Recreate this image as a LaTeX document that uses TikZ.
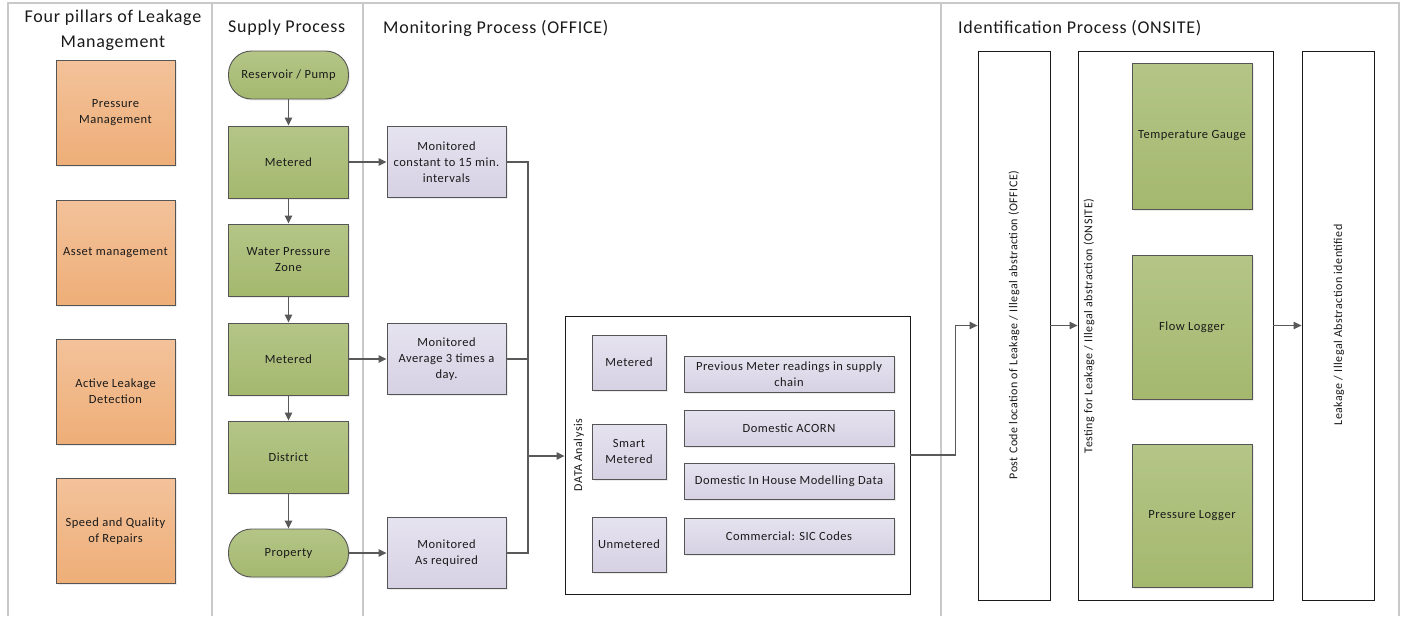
\documentclass[tikz,border=0pt]{standalone}
\usepackage{fontspec}
\setmainfont{Carlito}[LetterSpace=4]
\usetikzlibrary{arrows.meta,shadows}
\definecolor{lanegray}{HTML}{C9C9C9}
\definecolor{boxline}{HTML}{555555}
\definecolor{txtgray}{HTML}{1A1A1A}
\definecolor{flowgray}{HTML}{595959}
\definecolor{orangetop}{HTML}{F3C29A}
\definecolor{orangebot}{HTML}{EEAE78}
\definecolor{greentop}{HTML}{B4C587}
\definecolor{greenbot}{HTML}{A5B86E}
\definecolor{lavtop}{HTML}{E6E3F0}
\definecolor{lavbot}{HTML}{D6D1E3}
\tikzset{
  lane/.style={draw=lanegray,line width=1.4pt},
  lanetitle/.style={anchor=west,inner sep=0pt,text=txtgray,font=\fontsize{18}{25}\selectfont},
  box/.style={draw=boxline,line width=0.9pt,align=center,text=txtgray,
    font=\fontsize{12.5}{16}\selectfont,
    drop shadow={shadow xshift=1.5pt,shadow yshift=-1.5pt,opacity=0.15}},
  pillar/.style={box,top color=orangetop,bottom color=orangebot,minimum width=119pt,minimum height=105pt},
  supply/.style={box,top color=greentop,bottom color=greenbot,minimum width=120pt,minimum height=72pt},
  terminal/.style={supply,minimum height=48pt,rounded corners=23pt},
  monitor/.style={box,top color=lavtop,bottom color=lavbot,minimum width=119pt,minimum height=71pt},
  datatype/.style={monitor,minimum width=74pt,minimum height=55pt},
  datasource/.style={monitor,minimum width=210pt,minimum height=36pt},
  device/.style={supply,minimum width=120pt},
  stage/.style={draw=txtgray,line width=0.9pt,fill=white,minimum height=549pt},
  sidelabel/.style={rotate=90,inner sep=0pt,text=txtgray,font=\fontsize{12}{14}\selectfont},
  flow/.style={draw=flowgray,line width=1.2pt},
  flowarrow/.style={flow,-{Triangle[length=8pt,width=7.5pt]}}
}
\begin{document}
\begin{tikzpicture}[x=1pt,y=-1pt]
\useasboundingbox (0,0) rectangle (1404,616);
\draw[lane] (8,616) -- (8,3) -- (1399,3) -- (1399,616);
\foreach \lx in {212,363,941}
  \draw[lane] (\lx,3) -- (\lx,616);

\node[lanetitle,anchor=center,align=center] (pillartitle) at (113,30) {Four pillars of Leakage\\Management};
\node[lanetitle] (supplytitle) at (228,28) {Supply Process};
\node[lanetitle] (montitle) at (383,28) {Monitoring Process (OFFICE)};
\node[lanetitle] (idtitle) at (958,28) {Identification Process (ONSITE)};

\node[pillar] (pm) at (115.5,113) {Pressure\\Management};
\node[pillar] (am) at (115.5,252.5) {Asset management};
\node[pillar] (ald) at (115.5,391.5) {Active Leakage\\Detection};
\node[pillar] (sqr) at (115.5,531) {Speed and Quality\\of Repairs};

\node[terminal] (res) at (288.5,75) {Reservoir / Pump};
\node[supply] (met1) at (288.5,162) {Metered};
\node[supply] (wpz) at (288.5,260) {Water Pressure\\Zone};
\node[supply] (met2) at (288.5,359) {Metered};
\node[supply] (dist) at (288.5,457) {District};
\node[terminal] (prop) at (288.5,553) {Property};

\node[monitor] (mon1) at (446.5,162) {Monitored\\constant to 15 min.\\intervals};
\node[monitor] (mon2) at (446.5,359) {Monitored\\Average 3 times a\\day.};
\node[monitor] (mon3) at (446.5,553) {Monitored\\As required};

\draw[flowarrow] (res) -- (met1);
\draw[flowarrow] (met1) -- (wpz);
\draw[flowarrow] (wpz) -- (met2);
\draw[flowarrow] (met2) -- (dist);
\draw[flowarrow] (dist) -- (prop);
\draw[flowarrow] (met1) -- (mon1);
\draw[flowarrow] (met2) -- (mon2);
\draw[flowarrow] (prop) -- (mon3);

\node[draw=txtgray,line width=0.9pt,minimum width=345pt,minimum height=278pt] (data) at (737.5,455) {};
\node[sidelabel] (datalbl) at (579,455) {DATA Analysis};
\node[datatype] (dmet) at (629,362.5) {Metered};
\node[datatype] (dsmart) at (629,451.5) {Smart\\Metered};
\node[datatype] (dunmet) at (629,544.5) {Unmetered};
\node[datasource] (prev) at (789,374) {Previous Meter readings in supply\\chain};
\node[datasource] (acorn) at (789,428.5) {Domestic ACORN};
\node[datasource] (inhouse) at (789,481.5) {Domestic In House Modelling Data};
\node[datasource] (sic) at (789,536) {Commercial: SIC Codes};

\coordinate (busjoin) at (528,456);
\draw[flow] (mon1.east) -| (busjoin);
\draw[flow] (mon3.east) -| (busjoin);
\draw[flow] (mon2.east) -- (mon2.east -| busjoin);
\draw[flowarrow] (busjoin) -- (data.west |- busjoin);

\node[stage,minimum width=72pt] (post) at (1014,325.5) {};
\node[stage,minimum width=195pt] (test) at (1175.5,325.5) {};
\node[stage,minimum width=72pt] (leak) at (1338,325.5) {};
\node[sidelabel] (postlbl) at (1014,325) {Post Code location of Leakage / Illegal abstraction (OFFICE)};
\node[sidelabel] (testlbl) at (1089,326) {Testing for Leakage / Illegal abstraction (ONSITE)};
\node[sidelabel] (leaklbl) at (1339,325) {Leakage / Illegal Abstraction identified};
\node[device,minimum height=146pt] (temp) at (1192,136) {Temperature Gauge};
\node[device,minimum height=144pt] (flowlog) at (1192,327) {Flow Logger};
\node[device,minimum height=143pt] (preslog) at (1192,515.5) {Pressure Logger};

\draw[flowarrow] (data.east) -- ++(45,0) |- (post.west);
\draw[flowarrow] (post) -- (test);
\draw[flowarrow] (test) -- (leak);
\end{tikzpicture}
\end{document}
